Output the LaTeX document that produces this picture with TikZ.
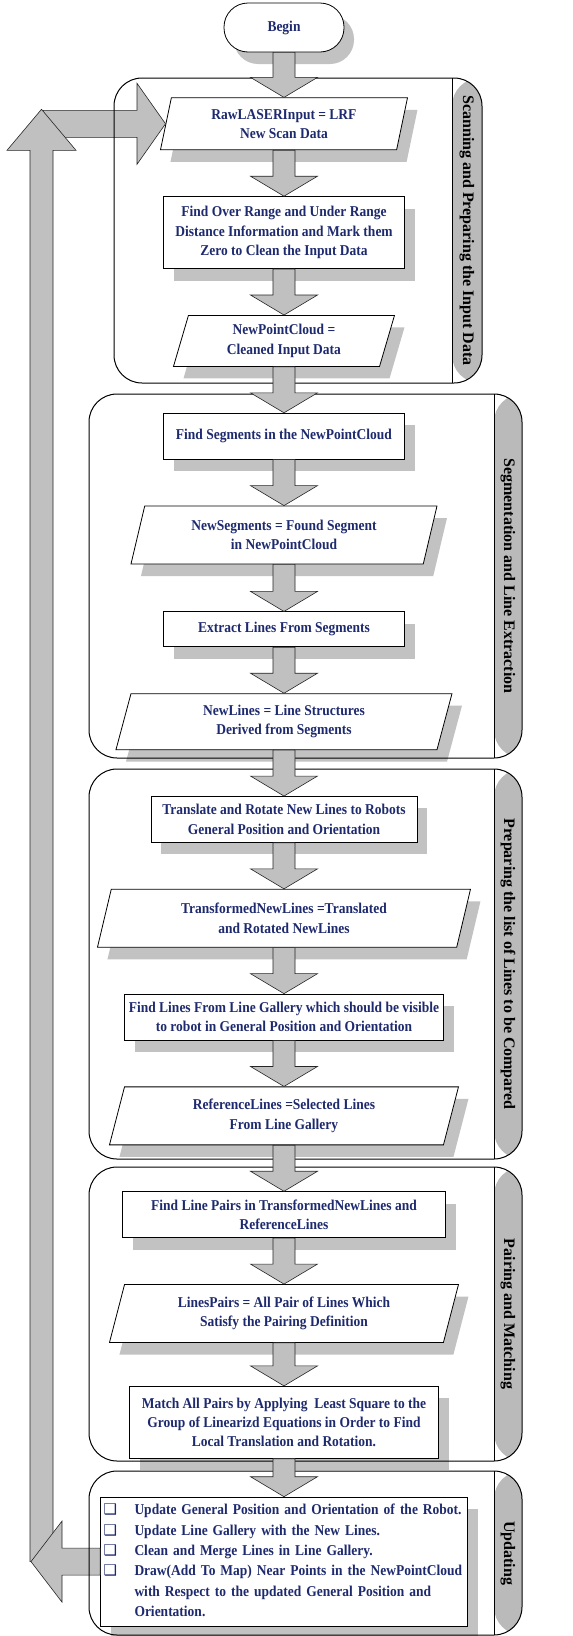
\documentclass[tikz,border=0pt]{standalone}
\usepackage{fontspec}
\setmainfont{Liberation Serif}[FakeStretch=0.9]
\newfontfamily\titlefont{Liberation Serif}
\newfontfamily\boxsym{DejaVu Sans}
\usetikzlibrary{positioning,shapes.geometric,shadows,calc}

\definecolor{flowblue}{RGB}{30,42,110}
\definecolor{arrowgray}{RGB}{192,192,192}
\definecolor{shadowgray}{RGB}{194,194,194}
\definecolor{stripgray}{RGB}{186,186,186}

\newcommand{\chkbox}{{\boxsym\fontsize{15}{20.4}\selectfont ❑}}

\begin{document}
\begin{tikzpicture}[
    x=1pt, y=-1pt,
    node distance=46pt,
    flowbox/.style={
        draw,
        line width=0.8pt,
        fill=white,
        text=flowblue,
        align=center,
        inner sep=2pt,
        font=\fontsize{15}{19.4}\selectfont\bfseries,
        drop shadow={shadow xshift=10pt, shadow yshift=-12pt, fill=shadowgray, opacity=1}
    },
    databox/.style={flowbox, trapezium, trapezium left angle=68, trapezium right angle=112,
        trapezium stretches body},
    grpbox/.style={
        draw,
        line width=1pt,
        rounded corners=28pt,
        path picture={
            \fill[stripgray] ([xshift=-#1]path picture bounding box.north east)
                rectangle (path picture bounding box.south east);
            \draw[line width=1pt] ([xshift=-#1]path picture bounding box.north east)
                -- ([xshift=-#1]path picture bounding box.south east);
        }
    },
    grptitle/.style={rotate=-90, font=\titlefont\fontsize{16}{19}\selectfont\bfseries},
    fatarrow/.style={
        draw=black!85, line width=0.6pt, fill=arrowgray,
        to path={let \p1=(\tikztostart), \p2=(\tikztotarget) in
            (\x1-11pt,\y1) -- (\x1-11pt,\y2+20pt) -- (\x1-33.5pt,\y2+20pt) -- (\x1,\y2)
            -- (\x1+33.5pt,\y2+20pt) -- (\x1+11pt,\y2+20pt) -- (\x1+11pt,\y1) -- cycle}
    },
    loopback/.style={draw=black!85, line width=0.6pt, fill=arrowgray}
]
\useasboundingbox (0,0) rectangle (573,1636);

% flow nodes
\node[flowbox, rounded corners=24pt, minimum width=120pt, minimum height=49pt] (begin) at (284,27.5) {Begin};
\node[databox, trapezium left angle=72, trapezium right angle=108, minimum width=247pt, minimum height=52pt,
      below=45pt of begin] (raw) {RawLASERInput = LRF\\New Scan Data};
\node[flowbox, minimum width=241pt, minimum height=72pt, below=of raw] (overrange)
      {Find Over Range and Under Range\\Distance Information and Mark them\\Zero to Clean the Input Data};
\node[databox, minimum width=221pt, minimum height=51pt, below=of overrange] (cloud) {NewPointCloud =\\Cleaned Input Data};
\node[flowbox, minimum width=241pt, minimum height=46pt, below=of cloud] (findseg) {Find Segments in the NewPointCloud};
\node[databox, minimum width=306pt, minimum height=58pt, below=of findseg] (newseg) {NewSegments = Found Segment\\in NewPointCloud};
\node[flowbox, minimum width=241pt, minimum height=35pt, below=47pt of newseg] (extract) {Extract Lines From Segments};
\node[databox, minimum width=336pt, minimum height=56pt, below=of extract] (newlines) {NewLines = Line Structures\\Derived from Segments};
\node[flowbox, minimum width=266pt, minimum height=46pt, below=of newlines] (translate)
      {Translate and Rotate New Lines to Robots\\General Position and Orientation};
\node[databox, minimum width=373pt, minimum height=58pt, below=of translate] (transformed)
      {TransformedNewLines =Translated\\and Rotated NewLines};
\node[flowbox, minimum width=319pt, minimum height=46pt, below=of transformed] (findgal)
      {Find Lines From Line Gallery which should be visible\\to robot in General Position and Orientation};
\node[databox, minimum width=349pt, minimum height=58pt, below=of findgal] (reflines) {ReferenceLines =Selected Lines\\From Line Gallery};
\node[flowbox, minimum width=323pt, minimum height=46pt, below=of reflines] (findpairs)
      {Find Line Pairs in TransformedNewLines and\\ReferenceLines};
\node[databox, minimum width=349pt, minimum height=58pt, below=of findpairs] (pairs)
      {LinesPairs = All Pair of Lines Which\\Satisfy the Pairing Definition};
\node[flowbox, minimum width=309pt, minimum height=72pt, below=43pt of pairs] (match)
      {Match All Pairs by Applying\ \ Least Square to the\\Group of Linearizd Equations in Order to Find\\Local Translation and Rotation.};
\node[flowbox, minimum width=367pt, minimum height=129pt, text width=361pt, inner sep=3pt, align=left,
      font=\fontsize{15}{20.4}\selectfont\bfseries, below=38pt of match] (update) {\noindent
      \begin{tabular}{@{}p{31pt}@{}l@{}}
      \chkbox & Update General Position and Orientation of the Robot.\\
      \chkbox & Update Line Gallery with the New Lines.\\
      \chkbox & Clean and Merge Lines in Line Gallery.\\
      \chkbox & Draw(Add To Map) Near Points in the NewPointCloud\\
              & with Respect to the updated General Position and\\
              & Orientation.
      \end{tabular}};

% loop back to the scan input
\draw[loopback] let \p2=(raw.west) in
    (43pt,\y2+13.5pt) -- (137pt,\y2+13.5pt) -- (137pt,\y2+40.5pt) -- (\x2,\y2)
    -- (137pt,\y2-40.5pt) -- (137pt,\y2-13.5pt) -- (43pt,\y2-13.5pt) -- cycle;
\draw[loopback] let \p1=(update.west), \p2=(raw.west) in
    (30pt,\y1) -- (30pt,\y2-26.5pt) -- (7pt,\y2-26.5pt) -- (41.5pt,\y2+14.5pt)
    -- (76pt,\y2-26.5pt) -- (53pt,\y2-26.5pt) -- (53pt,\y1) -- cycle;
\draw[loopback] let \p1=(update.west) in
    (\x1,\y1+13.5pt) -- (62pt,\y1+13.5pt) -- (62pt,\y1+40.5pt) -- (31pt,\y1)
    -- (62pt,\y1-40.5pt) -- (62pt,\y1-13.5pt) -- (\x1,\y1-13.5pt) -- cycle;

% groups
\node[grpbox=30pt, minimum width=368pt, minimum height=305pt] (scan) at (298,230.5) {};
\node[grpbox=28pt, minimum width=433pt, minimum height=364pt] (segm) at (305.5,576) {};
\node[grpbox=28pt, minimum width=433pt, minimum height=390pt] (prep) at (305.5,964) {};
\node[grpbox=28pt, minimum width=433pt, minimum height=294pt] (pairing) at (305.5,1314) {};
\node[grpbox=28pt, minimum width=433pt, minimum height=164pt] (updating) at (305.5,1553) {};
\node[grptitle] (scantitle) at (467,230.5) {Scanning and Preparing the Input Data};
\node[grptitle] (segmtitle) at (508,576) {Segmentation and Line Extraction};
\node[grptitle] (preptitle) at (508,964) {Preparing the list of Lines to be Compared};
\node[grptitle] (pairingtitle) at (508,1314) {Pairing and Matching};
\node[grptitle] (updatingtitle) at (508,1553) {Updating};

\draw[fatarrow] (begin.south) to (raw.north);
\draw[fatarrow] (raw.south) to (overrange.north);
\draw[fatarrow] (overrange.south) to (cloud.north);
\draw[fatarrow] (cloud.south) to (findseg.north);
\draw[fatarrow] (findseg.south) to (newseg.north);
\draw[fatarrow] (newseg.south) to (extract.north);
\draw[fatarrow] (extract.south) to (newlines.north);
\draw[fatarrow] (newlines.south) to (translate.north);
\draw[fatarrow] (translate.south) to (transformed.north);
\draw[fatarrow] (transformed.south) to (findgal.north);
\draw[fatarrow] (findgal.south) to (reflines.north);
\draw[fatarrow] (reflines.south) to (findpairs.north);
\draw[fatarrow] (findpairs.south) to (pairs.north);
\draw[fatarrow] (pairs.south) to (match.north);
\draw[fatarrow] (match.south) to (update.north);
\end{tikzpicture}
\end{document}
